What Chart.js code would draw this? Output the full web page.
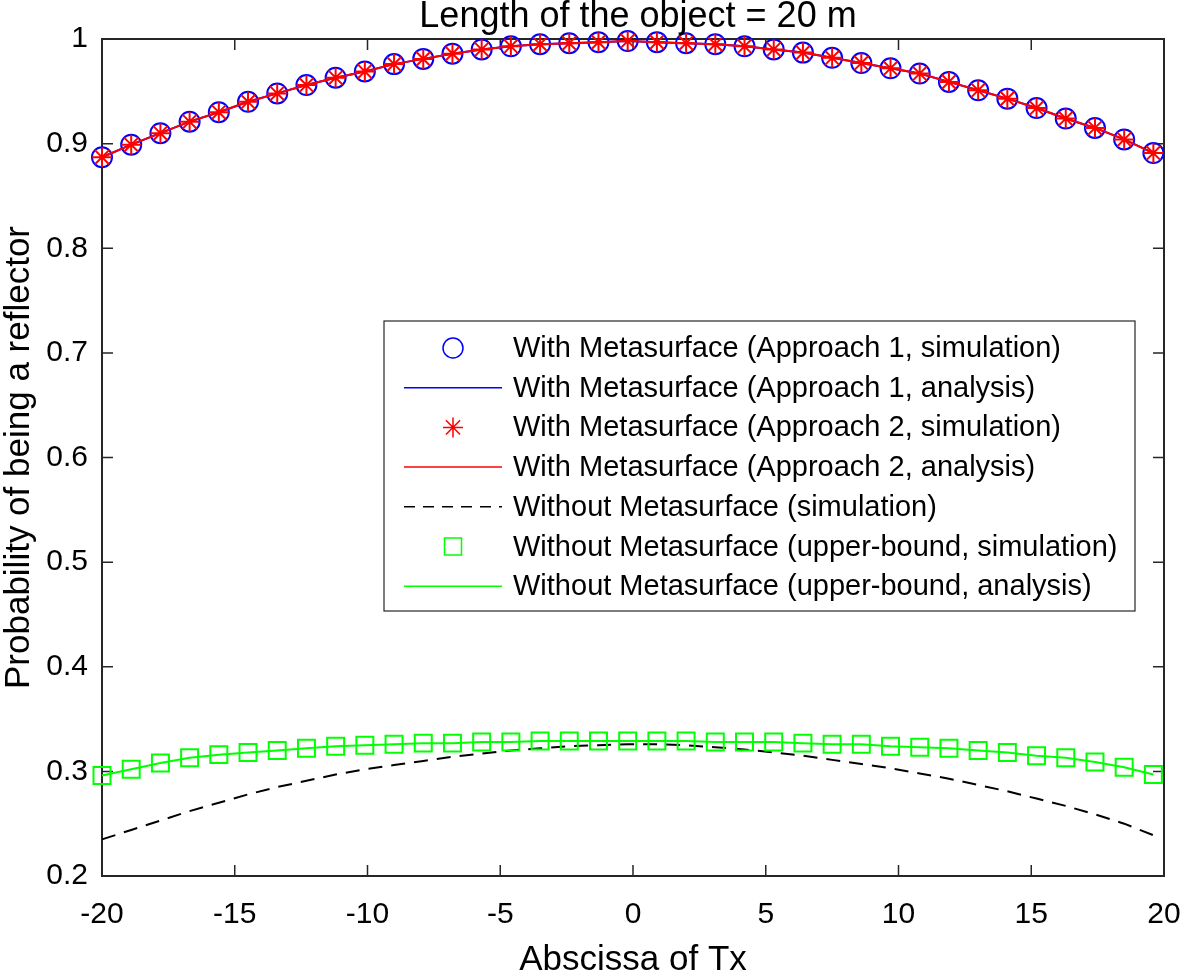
<!DOCTYPE html>
<html>
<head>
<meta charset="utf-8">
<script src="https://cdn.jsdelivr.net/npm/chart.js@4.4.1/dist/chart.umd.min.js"></script>
<style>
  html, body { margin: 0; padding: 0; background: #fff; }
  canvas { display: block; }
</style>
</head>
<body>
<canvas id="chart" width="1181" height="973"></canvas>
<script>
// abscissas of Tx where the curves were sampled
const txPositions = [-20, -18.9, -17.8, -16.7, -15.6, -14.5, -13.4, -12.3, -11.2, -10.1, -9, -7.9, -6.8,
  -5.7, -4.6, -3.5, -2.4, -1.3, -0.2, 0.9, 2, 3.1, 4.2, 5.3, 6.4, 7.5, 8.6, 9.7, 10.8, 11.9, 13,
  14.1, 15.2, 16.3, 17.4, 18.5, 19.6];

// with metasurface (both approaches, simulation and analysis coincide)
const approach1Sim = [0.887, 0.899, 0.910, 0.921, 0.930, 0.940, 0.948, 0.956, 0.963, 0.969, 0.976, 0.981, 0.986,
  0.990, 0.993, 0.995, 0.996, 0.997, 0.998, 0.997, 0.996, 0.995, 0.993, 0.990, 0.987, 0.982, 0.977, 0.972,
  0.967, 0.959, 0.951, 0.943, 0.934, 0.924, 0.915, 0.904, 0.891];
const approach1Ana = approach1Sim.slice();
const approach2Sim = approach1Sim.slice();
const approach2Ana = approach1Sim.slice();

// without metasurface
const withoutSim = [0.235, 0.244, 0.253, 0.262, 0.270, 0.278, 0.285, 0.291, 0.297, 0.302, 0.306, 0.310, 0.314,
  0.317, 0.320, 0.322, 0.324, 0.325, 0.326, 0.326, 0.325, 0.323, 0.321, 0.318, 0.315, 0.311, 0.307, 0.303,
  0.298, 0.293, 0.287, 0.281, 0.274, 0.267, 0.259, 0.250, 0.239];
const upperSim = [0.296, 0.302, 0.308, 0.313, 0.316, 0.318, 0.320, 0.322, 0.324, 0.325, 0.326, 0.327, 0.327,
  0.328, 0.328, 0.329, 0.329, 0.329, 0.329, 0.329, 0.329, 0.328, 0.328, 0.328, 0.327, 0.326, 0.326, 0.324,
  0.323, 0.322, 0.320, 0.318, 0.315, 0.313, 0.309, 0.304, 0.297];
const upperAna = upperSim.slice();

const xTicks = [-20, -15, -10, -5, 0, 5, 10, 15, 20];
const yTicks = [0.2, 0.3, 0.4, 0.5, 0.6, 0.7, 0.8, 0.9, 1];

const legendLabels = [
  'With Metasurface (Approach 1, simulation)',
  'With Metasurface (Approach 1, analysis)',
  'With Metasurface (Approach 2, simulation)',
  'With Metasurface (Approach 2, analysis)',
  'Without Metasurface (simulation)',
  'Without Metasurface (upper-bound, simulation)',
  'Without Metasurface (upper-bound, analysis)'
];

const FONT = "'Liberation Sans', Arial, sans-serif";
const AXIS = '#262626';
const pts = arr => txPositions.map((x, i) => ({ x, y: arr[i] }));

const markerSet = (label, arr, color, style, r, order) => ({
  label, data: pts(arr), showLine: false, order,
  pointStyle: style, pointRadius: r, pointHoverRadius: r,
  borderColor: color, backgroundColor: 'rgba(0,0,0,0)', pointBorderWidth: 2, clip: false
});
const lineSet = (label, arr, color, order, dash) => ({
  label, data: pts(arr), showLine: true, order, pointRadius: 0,
  borderColor: color, borderWidth: 2, borderDash: dash || [], tension: 0, clip: false
});

const datasets = [
  markerSet(legendLabels[0], approach1Sim, '#0000ff', 'circle', 10, 10),
  lineSet(legendLabels[1], approach1Ana, '#0000ff', 9),
  markerSet(legendLabels[2], approach2Sim, '#ff0000', 'star', 10, 8),
  lineSet(legendLabels[3], approach2Ana, '#ff0000', 7),
  lineSet(legendLabels[4], withoutSim, '#000000', 6, [14, 9]),
  markerSet(legendLabels[5], upperSim, '#00ff00', 'rect', 12, 5),
  lineSet(legendLabels[6], upperAna, '#00ff00', 4)
];

// box + inward ticks like MATLAB axes
const axesBox = {
  id: 'axesBox',
  beforeDatasetsDraw(chart) {
    const { ctx, chartArea: a, scales: { x, y } } = chart;
    ctx.save();
    ctx.strokeStyle = AXIS;
    ctx.lineWidth = 1.5;
    ctx.beginPath();
    xTicks.forEach(v => {
      const px = x.getPixelForValue(v);
      ctx.moveTo(px, a.bottom); ctx.lineTo(px, a.bottom - 11);
      ctx.moveTo(px, a.top); ctx.lineTo(px, a.top + 11);
    });
    yTicks.forEach(v => {
      const py = y.getPixelForValue(v);
      ctx.moveTo(a.left, py); ctx.lineTo(a.left + 11, py);
      ctx.moveTo(a.right, py); ctx.lineTo(a.right - 11, py);
    });
    ctx.stroke();
    ctx.lineWidth = 2;
    ctx.strokeRect(a.left, a.top, a.right - a.left, a.bottom - a.top);
    ctx.restore();
  },
  afterDraw(chart) {
    const { ctx, chartArea: a } = chart;
    ctx.save();
    ctx.fillStyle = '#000';
    ctx.font = `36px ${FONT}`;
    ctx.textAlign = 'center';
    ctx.textBaseline = 'alphabetic';
    ctx.fillText('Length of the object = 20 m', (a.left + a.right) / 2 + 5, 27);
    ctx.restore();
  }
};

// legend box inside the axes
const boxLegend = {
  id: 'boxLegend',
  afterDraw(chart) {
    const ctx = chart.ctx;
    const L = 384, T = 321, R = 1135, B = 611;
    ctx.save();
    ctx.fillStyle = '#fff';
    ctx.fillRect(L, T, R - L, B - T);
    ctx.strokeStyle = AXIS;
    ctx.lineWidth = 1.2;
    ctx.strokeRect(L, T, R - L, B - T);
    chart.data.datasets.forEach((ds, i) => {
      const cy = 348 + i * 39.7;
      ctx.save();
      if (ds.showLine) {
        ctx.strokeStyle = ds.borderColor;
        ctx.lineWidth = 1.5;
        ctx.setLineDash(ds.borderDash.length ? [11, 8] : []);
        ctx.beginPath();
        ctx.moveTo(404, cy); ctx.lineTo(502, cy);
        ctx.stroke();
      } else {
        ctx.strokeStyle = ds.borderColor;
        ctx.fillStyle = 'rgba(0,0,0,0)';
        ctx.lineWidth = 1.5;
        Chart.helpers.drawPoint(ctx, {
          pointStyle: ds.pointStyle, radius: ds.pointRadius, rotation: 0, borderWidth: 1.5
        }, 453, cy);
      }
      ctx.restore();
      ctx.fillStyle = '#000';
      ctx.font = `29px ${FONT}`;
      ctx.textAlign = 'left';
      ctx.textBaseline = 'middle';
      ctx.fillText(ds.label, 513, cy + 1);
    });
    ctx.restore();
  }
};

new Chart(document.getElementById('chart'), {
  type: 'scatter',
  data: { datasets },
  plugins: [axesBox, boxLegend],
  options: {
    responsive: false,
    animation: false,
    events: [],
    layout: { padding: { top: 39, right: 17, left: 0, bottom: 0 } },
    plugins: { legend: { display: false }, tooltip: { enabled: false }, title: { display: false } },
    scales: {
      x: {
        type: 'linear', min: -20, max: 20,
        afterFit: s => { s.height = 97; s.paddingLeft = 0; s.paddingRight = 0; },
        afterBuildTicks: s => { s.ticks = xTicks.map(v => ({ value: v })); },
        grid: { display: false, drawTicks: false },
        border: { display: false },
        ticks: { color: '#000', font: { family: FONT, size: 30 }, padding: 21, maxRotation: 0, autoSkip: false },
        title: { display: true, text: 'Abscissa of Tx', color: '#000', font: { family: FONT, size: 35, lineHeight: 1 }, padding: { top: 0, bottom: -5 } }
      },
      y: {
        type: 'linear', min: 0.2, max: 1,
        afterFit: s => { s.width = 102; s.paddingTop = 0; s.paddingBottom = 0; },
        afterBuildTicks: s => { s.ticks = yTicks.map(v => ({ value: v })); },
        grid: { display: false, drawTicks: false },
        border: { display: false },
        ticks: {
          color: '#000', font: { family: FONT, size: 30 }, padding: 14, autoSkip: false,
          callback: v => String(Math.round(v * 10) / 10)
        },
        title: { display: true, text: 'Probability of being a reflector', color: '#000', font: { family: FONT, size: 35, lineHeight: 1 }, padding: { top: 2, bottom: 0 } }
      }
    }
  }
});
</script>
</body>
</html>
